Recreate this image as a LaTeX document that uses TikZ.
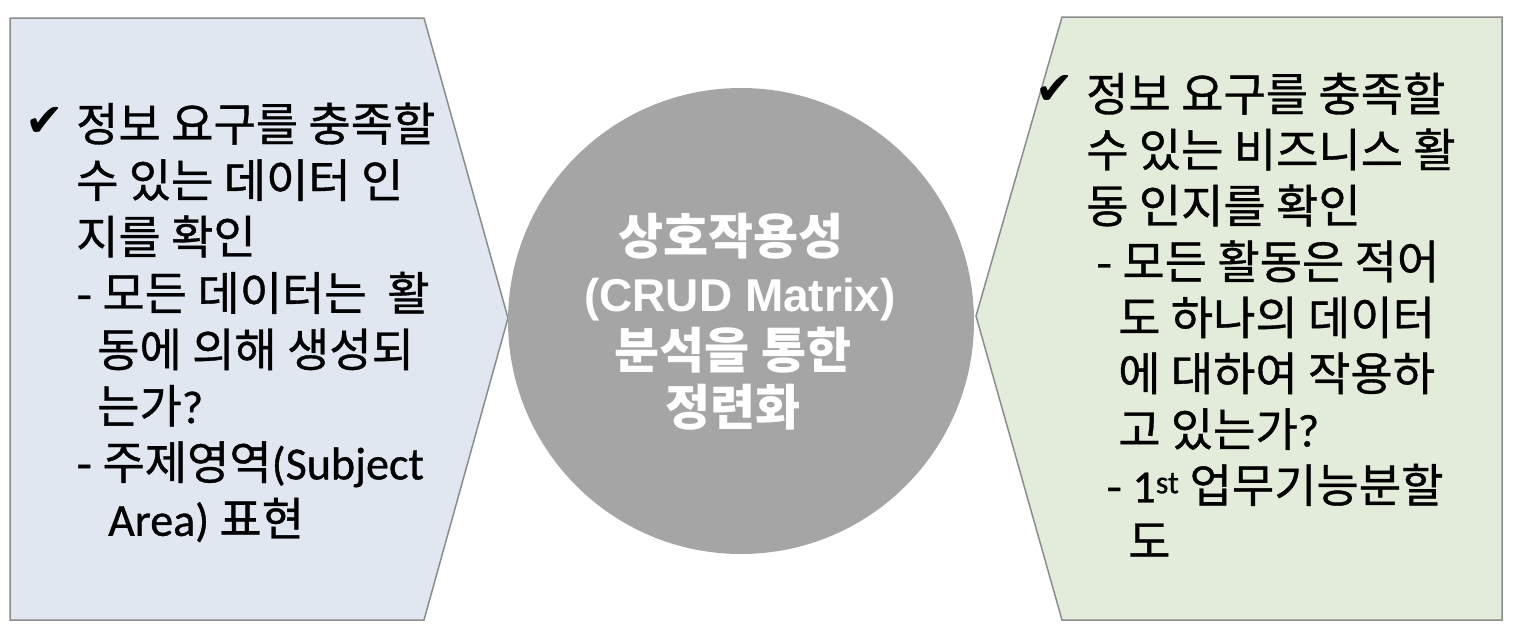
\documentclass[tikz,border=0pt]{standalone}
\usepackage{fontspec}
\setmainfont{Noto Sans CJK KR}
\newfontfamily\krtext{Noto Sans CJK KR}[FakeBold=0.8]
\newfontfamily\lat{Carlito}[FakeBold=0.8]
\newfontfamily\checkfont{DejaVu Sans}
\newfontfamily\latbold{Liberation Sans}
\definecolor{leftfill}{HTML}{E0E7F1}
\definecolor{rightfill}{HTML}{E3ECDA}
\definecolor{edgegray}{HTML}{8C8C8C}
\definecolor{circgray}{HTML}{A5A5A5}
\tikzset{
  panel/.style={draw=edgegray, line width=1.5pt, line join=miter},
  txt/.style={anchor=base west, inner sep=0pt, font=\krtext\fontsize{46}{52}\selectfont},
  ctxt/.style={anchor=base, inner sep=0pt, text=white, font=\fontsize{49}{56}\selectfont\bfseries},
  chk/.style={anchor=base west, inner sep=0pt, font=\checkfont\fontsize{46}{52}\selectfont}
}
\begin{document}
\begin{tikzpicture}[x=1pt,y=-1pt]
\useasboundingbox (0,0) rectangle (1515,632);
% left panel
\coordinate (ltl) at (10,18);
\coordinate (ltr) at (424,18);
\coordinate (ltip) at (508,318);
\coordinate (lbr) at (424,620);
\coordinate (lbl) at (10,620);
\draw[panel, fill=leftfill] (ltl) -- (ltr) -- (ltip) -- (lbr) -- (lbl) -- cycle;
% right panel
\coordinate (rtip) at (976,316);
\coordinate (rtl) at (1062,17);
\coordinate (rtr) at (1502,17);
\coordinate (rbr) at (1502,620);
\coordinate (rbl) at (1062,620);
\draw[panel, fill=rightfill] (rtip) -- (rtl) -- (rtr) -- (rbr) -- (rbl) -- cycle;
% circle
\node[circle, fill=circgray, minimum size=466pt, inner sep=0pt] (circ) at (741,321) {};
\node[ctxt] (c1) at (731,254) {상호작용성};
\node[ctxt] (c2) at (740,311) {\latbold\fontsize{46}{56}\selectfont\bfseries (CRUD Matrix)};
\node[ctxt] (c3) at (733,368) {분석을 통한};
\node[ctxt] (c4) at (733,425) {정련화};
% left text
\node[chk] (lchk) at (25,136) {✔};
\node[txt] (l1) at (76,141) {정보 요구를 충족할};
\node[txt] (l2) at (76,197.4) {수 있는 데이터 인};
\node[txt] (l3) at (76,253.8) {지를 확인};
\node[txt] (l4) at (76,310.2) {- 모든 데이터는\ \ 활};
\node[txt] (l5) at (97,366.6) {동에 의해 생성되};
\node[txt] (l6) at (97,423) {는가{\lat ?}};
\node[txt] (l7) at (76,479.4) {- 주제영역{\lat (Subject}};
\node[txt] (l8) at (108,535.8) {{\lat Area)} 표현};
% right text
\node[chk] (rchk) at (1035,104) {✔};
\node[txt] (r1) at (1086,111) {정보 요구를 충족할};
\node[txt] (r2) at (1086,166.9) {수 있는 비즈니스 활};
\node[txt] (r3) at (1086,222.8) {동 인지를 확인};
\node[txt] (r4) at (1096,278.7) {- 모든 활동은 적어};
\node[txt] (r5) at (1118,334.6) {도 하나의 데이터};
\node[txt] (r6) at (1118,390.5) {에 대하여 작용하};
\node[txt] (r7) at (1118,446.4) {고 있는가{\lat ?}};
\node[txt] (r8) at (1106,502.3) {- {\lat 1\textsuperscript{st}} 업무기능분할};
\node[txt] (r9) at (1128,558.2) {도};
\end{tikzpicture}
\end{document}
